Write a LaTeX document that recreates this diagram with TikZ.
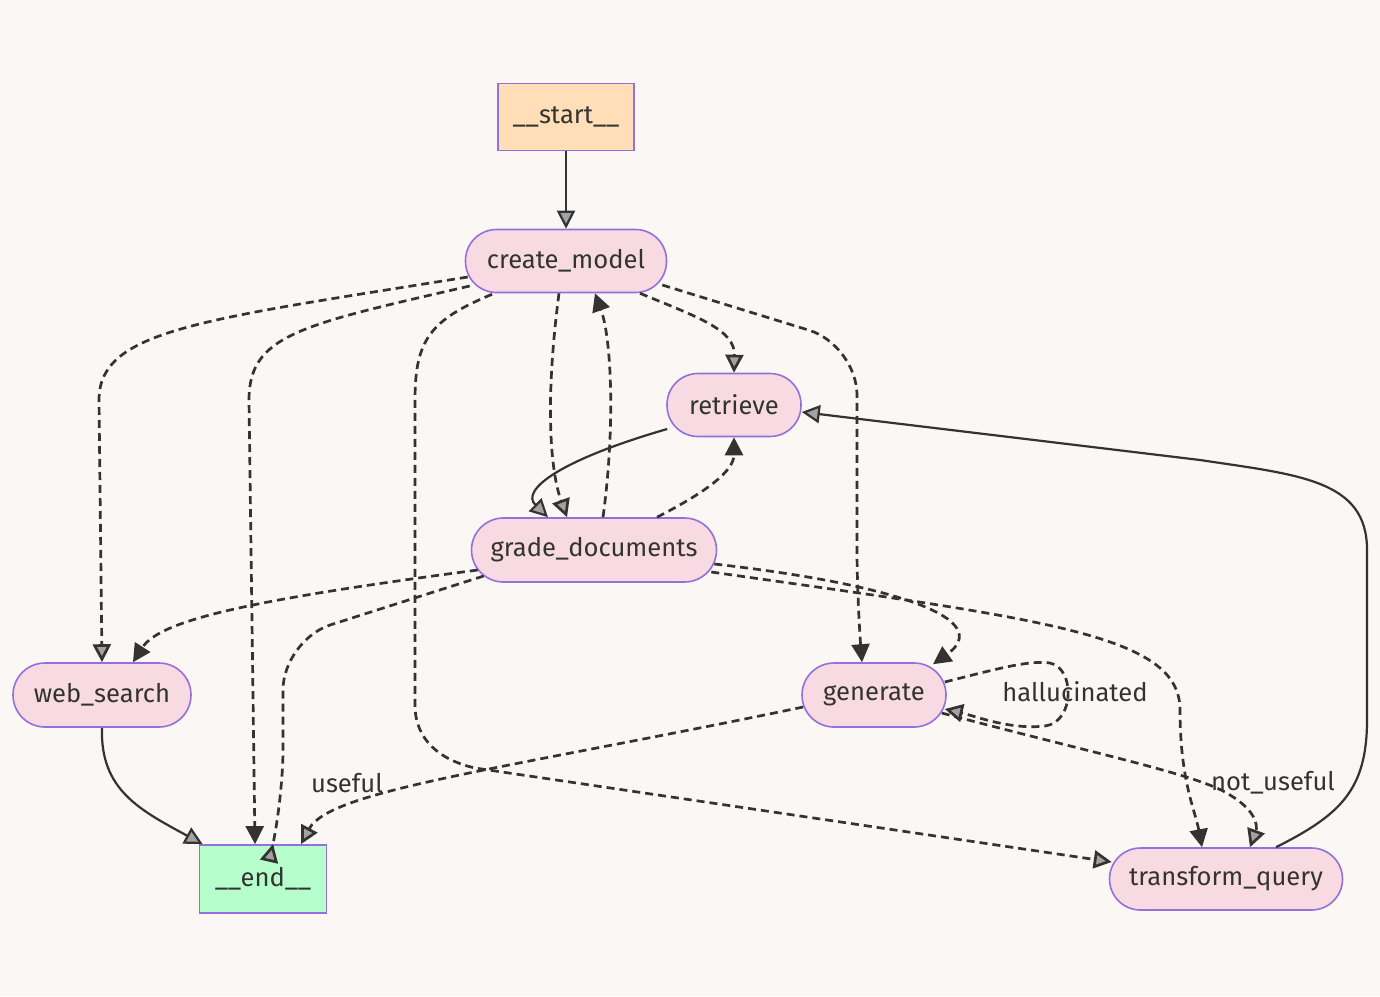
\documentclass[tikz,border=0pt]{standalone}
\usepackage{fontspec}
\setmainfont{Fira Sans}
\usetikzlibrary{arrows.meta,calc}
\definecolor{bg}{RGB}{250,247,245}
\definecolor{pinkf}{RGB}{248,218,226}
\definecolor{purp}{RGB}{147,112,219}
\definecolor{peach}{RGB}{255,222,184}
\definecolor{mint}{RGB}{182,255,204}
\definecolor{ink}{RGB}{51,51,51}
\begin{document}
\begin{tikzpicture}[x=0.5pt,y=-0.5pt,
 every node/.style={font=\fontsize{12.8}{15}\selectfont, text=ink},
 stad/.style={draw=purp, line width=0.8pt, fill=pinkf, rounded corners=15.5pt, inner sep=0pt, minimum height=31.5pt},
 boxnode/.style={draw=purp, line width=0.9pt, inner sep=0pt},
 solidedge/.style={draw=ink, line width=1.1pt},
 dashedge/.style={draw=ink, line width=1.35pt, dash pattern=on 4pt off 2.5pt},
 tipf/.style={-{Triangle[length=9pt,width=9pt]}},
 tiph/.style={-{Triangle[length=9pt,width=9pt,fill=ink!45]}},
 lbl/.style={inner sep=1pt}
]
\fill[bg] (0,0) rectangle (1380,996);
\useasboundingbox (0,0) rectangle (1380,996);

% nodes
\node[boxnode, fill=peach, minimum width=68pt, minimum height=33.5pt] (st) at (566,117) {\_\_start\_\_};
\node[stad, minimum width=100.5pt] (cm) at (566,261) {create\_model};
\node[stad, minimum width=67pt] (rt) at (734,405) {retrieve};
\node[stad, minimum width=122.5pt, minimum height=32pt, rounded corners=16pt] (gd) at (594,550) {grade\_documents};
\node[stad, minimum width=89pt, minimum height=32pt, rounded corners=16pt] (ws) at (102,695) {web\_search};
\node[stad, minimum width=72pt, minimum height=32pt, rounded corners=16pt] (ge) at (874,695) {generate};
\node[boxnode, fill=mint, minimum width=63.5pt, minimum height=34pt] (en) at (263,879) {\_\_end\_\_};
\node[stad, minimum width=116.5pt, minimum height=31pt] (tq) at (1226,879) {transform\_query};

% labels
\node[lbl] (lh) at (1075,692) {hallucinated};
\node[lbl] (lu) at (347,783) {useful};
\node[lbl] (ln) at (1273,783) {not\_useful};

% edges
\draw[solidedge,tiph] (st.south) -- (cm.north);
\draw[dashedge,tiph] ($(cm.west)+(3,16)$) .. controls (200,320) and (99,330) .. (99,400) -- (ws.north);
\draw[dashedge,tipf] ($(cm.west)+(5,25)$) .. controls (300,325) and (249,335) .. (249,400) -- ($(en.north)+(-8,0)$);
\draw[dashedge,tiph] ($(cm.south)+(-74,1)$) .. controls (430,320) and (415,340) .. (415,400) -- (415,705) .. controls (415,740) and (440,760) .. (475,768) -- ($(tq.west)+(3,-17)$);
\draw[dashedge,tiph] ($(cm.south)+(-7,0)$) .. controls (545,400) and (550,470) .. ($(gd.north)+(-27,0)$);
\draw[dashedge,tipf] ($(gd.north)+(9,0)$) .. controls (615,430) and (612,340) .. ($(cm.south)+(29,0)$);
\draw[dashedge,tiph] ($(cm.south)+(74,0)$) .. controls (700,318) and (735,330) .. (rt.north);
\draw[dashedge,tipf,rounded corners=25pt] ($(cm.east)+(-5,24)$) -- (857,345) -- (857,600) -- ($(ge.north)+(-12,0)$);
\draw[solidedge,tiph] ($(rt.west)+(1,24)$) .. controls (560,460) and (520,490) .. ($(gd.north)+(-46,0)$);
\draw[dashedge,tipf] ($(gd.north)+(63,0)$) .. controls (710,490) and (734,470) .. (rt.south);
\draw[dashedge,tipf] ($(gd.west)+(7,20)$) .. controls (250,600) and (160,620) .. ($(ws.north)+(31,0)$);
\draw[dashedge,tiph,rounded corners=25pt] ($(gd.west)+(13,26)$) -- (283,640) -- (283,800) -- ($(en.north)+(10,0)$);
\draw[dashedge,tiph] ($(ge.west)+(2,12)$) .. controls (500,770) and (330,790) .. ($(en.north)+(38,0)$);
\draw[solidedge,tiph] (ws.south) .. controls (100,790) and (140,810) .. ($(en.north west)+(4,0)$);
\draw[dashedge,tipf] ($(gd.east)+(-3,14)$) .. controls (900,585) and (995,620) .. ($(ge.north)+(59,2)$);
\draw[dashedge,tipf] ($(gd.east)+(-6,22)$) .. controls (1050,620) and (1180,635) .. (1180,710) .. controls (1180,780) and (1195,810) .. ($(tq.north)+(-24,0)$);
\draw[dashedge,tiph] ($(ge.east)+(-5,18)$) .. controls (1100,755) and (1200,775) .. (1230,795) .. controls (1255,810) and (1258,825) .. ($(tq.north)+(24,0)$);
\draw[dashedge,tiph] ($(ge.east)+(-2,-13)$) .. controls (1000,668) and (1030,660) .. (1050,663) .. controls (1075,668) and (1075,722) .. (1045,726) .. controls (1010,730) and (975,716) .. ($(ge.east)+(-2,14)$);
\draw[solidedge,tiph] ($(tq.north)+(50,0)$) .. controls (1340,815) and (1367,790) .. (1367,720) -- (1367,550) .. controls (1367,480) and (1300,475) .. (1200,460) -- ($(rt.east)+(0,7)$);
\end{tikzpicture}
\end{document}
